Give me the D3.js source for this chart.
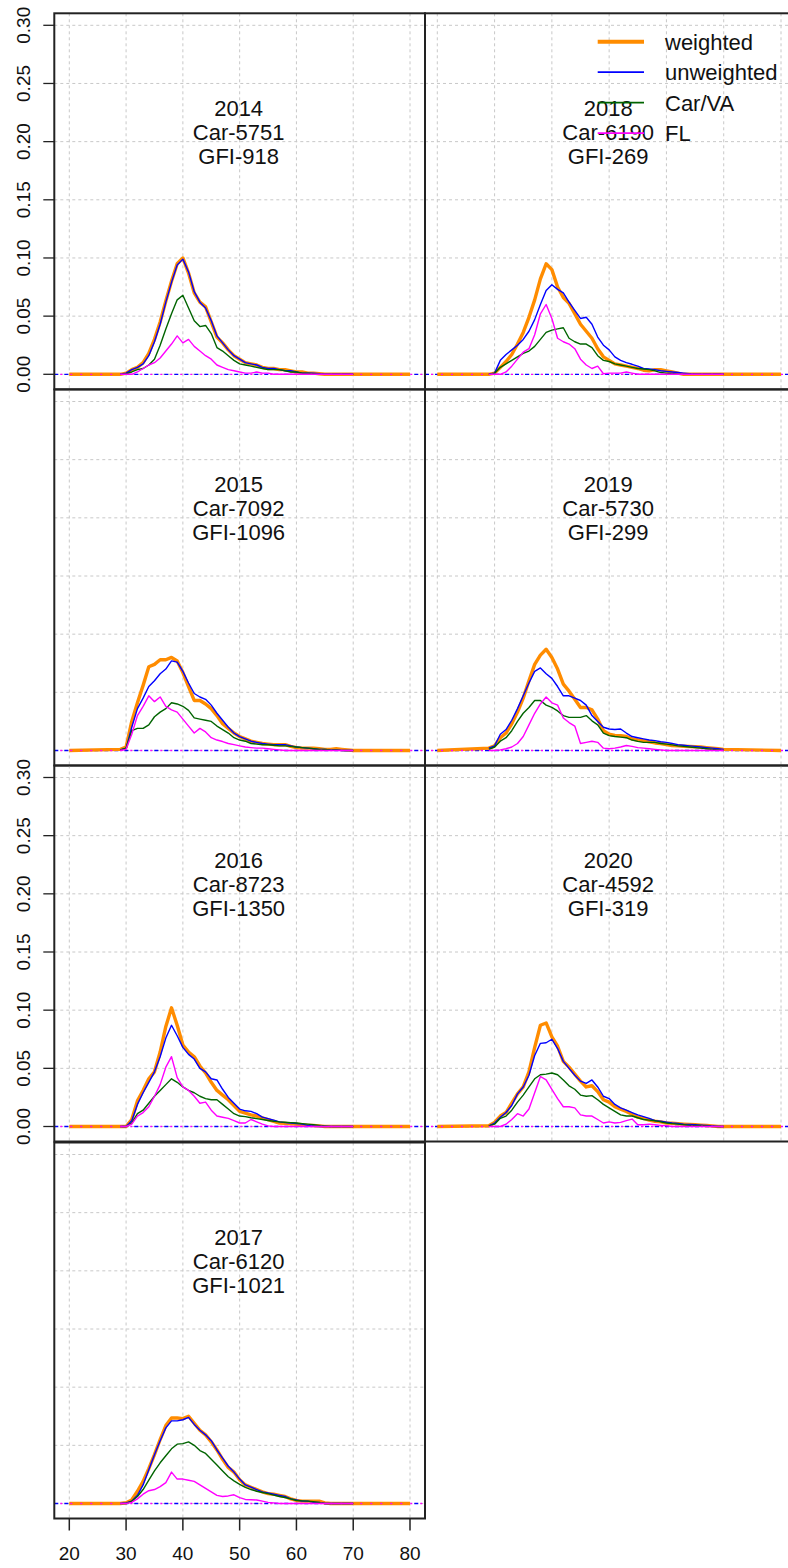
<!DOCTYPE html>
<html>
<head>
<meta charset="utf-8">
<script src="https://cdn.jsdelivr.net/npm/d3@7"></script>
<style>
  html, body { margin: 0; padding: 0; background: #fff; }
  svg { display: block; }
  text { font-family: "Liberation Sans", Arial, sans-serif; fill: #111; }
</style>
</head>
<body>
<svg id="chart" width="788" height="1568"></svg>
<script>
// ---------------- DATA ----------------
const ages = [20,
  29,30,31,32,33,34,35,36,37,38,
  39,40,41,42,43,44,45,46,47,48,
  49,50,51,52,53,54,55,56,57,58,
  59,60,61,62,63,64,65,66,67,68,
  69,70,
  80];

const years = [2014, 2015, 2016, 2017, 2018, 2019, 2020];
const carCounts = [5751, 7092, 8723, 6120, 6190, 5730, 4592];
const gfiCounts = [918, 1096, 1350, 1021, 269, 299, 319];
const seriesNames = ["weighted", "unweighted", "Car/VA", "FL"];
const xTicks = [20, 30, 40, 50, 60, 70, 80];
const yTicks = [0, 0.05, 0.10, 0.15, 0.20, 0.25, 0.30];
const yTickLabels = ["0.00", "0.05", "0.10", "0.15", "0.20", "0.25", "0.30"];

// 2014
const weighted2014 = [0,
  0,0.001,0.004,0.006,0.010,0.018,0.030,0.045,0.063,0.080,
  0.095,0.100,0.087,0.070,0.062,0.058,0.045,0.032,0.027,0.021,
  0.016,0.013,0.010,0.009,0.008,0.006,0.005,0.005,0.004,0.004,
  0.003,0.002,0.002,0.001,0.001,0.0005,0,0,0,0,
  0,0,
  0];
const unweighted2014 = [null,
  0,0.001,0.004,0.006,0.009,0.016,0.028,0.043,0.062,0.079,
  0.094,0.099,0.088,0.071,0.062,0.057,0.046,0.033,0.027,0.021,
  0.016,0.013,0.010,0.009,0.008,0.006,0.005,0.005,0.004,0.003,
  0.003,0.002,0.001,0.001,0.001,0.0005,0,0,0,0,
  0,0,
  null];
const carva2014 = [null,
  0,0.0005,0.002,0.004,0.005,0.008,0.013,0.025,0.039,0.052,
  0.064,0.068,0.057,0.046,0.041,0.042,0.035,0.023,0.020,0.016,
  0.012,0.009,0.008,0.007,0.006,0.005,0.004,0.004,0.004,0.003,
  0.002,0.002,0.001,0.001,0.0005,0,0,0,0,0,
  0,0,
  null];
const fl2014 = [null,
  0,0,0,0.002,0.005,0.008,0.010,0.014,0.020,0.026,
  0.033,0.027,0.030,0.024,0.020,0.016,0.013,0.008,0.006,0.004,
  0.003,0.002,0.001,0.001,0.002,0.001,0.001,0,0,0,
  0,0,0,0,0,0,0,0,0,0,
  0,0,
  null];

// 2015
const weighted2015 = [0,
  0.001,0.003,0.025,0.041,0.056,0.072,0.074,0.078,0.078,0.080,
  0.077,0.067,0.055,0.043,0.043,0.040,0.036,0.030,0.023,0.019,
  0.015,0.012,0.010,0.008,0.007,0.006,0.0055,0.005,0.005,0.005,
  0.0035,0.0025,0.002,0.002,0.002,0.0015,0.001,0.001,0.0015,0.001,
  0.0005,0,
  0];
const unweighted2015 = [null,
  0.0005,0.002,0.020,0.036,0.045,0.055,0.060,0.066,0.070,0.077,
  0.076,0.068,0.058,0.049,0.046,0.044,0.039,0.032,0.026,0.020,
  0.015,0.012,0.010,0.008,0.007,0.006,0.0055,0.005,0.005,0.005,
  0.004,0.003,0.0025,0.002,0.0015,0.001,0.001,0.0005,0.0005,0,
  0,0,
  null];
const carva2015 = [null,
  0.0005,0.002,0.017,0.019,0.019,0.022,0.029,0.033,0.036,0.041,
  0.040,0.038,0.0345,0.028,0.027,0.026,0.025,0.021,0.018,0.015,
  0.011,0.009,0.008,0.006,0.0055,0.005,0.005,0.0045,0.004,0.004,
  0.0035,0.003,0.0025,0.002,0.0015,0.001,0.001,0.0005,0.0005,0,
  0,0,
  null];
const fl2015 = [null,
  0,0.001,0.014,0.030,0.038,0.047,0.042,0.046,0.038,0.035,
  0.033,0.027,0.021,0.015,0.019,0.016,0.011,0.009,0.0077,0.006,
  0.005,0.004,0.003,0.0025,0.002,0.002,0.0015,0.001,0.0005,0,
  0,0,0,0,0,0,0,0,0,0,
  0,0,
  null];

// 2016
const weighted2016 = [0,
  0,0,0.006,0.022,0.031,0.041,0.047,0.064,0.086,0.102,
  0.087,0.070,0.064,0.060,0.052,0.046,0.038,0.031,0.027,0.023,
  0.018,0.013,0.0115,0.010,0.009,0.0075,0.006,0.0045,0.003,0.0027,
  0.0023,0.002,0.0015,0.001,0.0008,0.0005,0,0,0,0,
  0,0,
  0];
const unweighted2016 = [null,
  0,0,0.005,0.019,0.029,0.038,0.047,0.060,0.076,0.087,
  0.078,0.068,0.062,0.058,0.050,0.047,0.041,0.040,0.032,0.025,
  0.020,0.015,0.0135,0.013,0.011,0.008,0.0068,0.0055,0.004,0.0033,
  0.003,0.0026,0.002,0.001,0.0005,0,0,0,0,0,
  0,0,
  null];
const carva2016 = [null,
  0,0,0.003,0.011,0.014,0.020,0.026,0.031,0.036,0.041,
  0.038,0.034,0.031,0.029,0.026,0.024,0.023,0.023,0.019,0.015,
  0.011,0.009,0.0085,0.0075,0.0068,0.006,0.0052,0.0045,0.004,0.0037,
  0.0033,0.003,0.0025,0.002,0.0015,0.001,0.0005,0,0,0,
  0,0,
  null];
const fl2016 = [null,
  0,0,0.002,0.009,0.012,0.017,0.026,0.036,0.051,0.060,
  0.042,0.034,0.031,0.026,0.020,0.021,0.014,0.009,0.008,0.007,
  0.005,0.003,0.003,0.006,0.004,0.002,0.0005,0,0,0,
  0,0,0,0,0,0,0,0,0,0,
  0,0,
  null];

// 2017
const weighted2017 = [0,
  0,0.0006,0.003,0.0105,0.019,0.030,0.042,0.055,0.067,0.0735,
  0.0735,0.073,0.075,0.069,0.063,0.059,0.053,0.046,0.038,0.031,
  0.027,0.0205,0.016,0.014,0.012,0.010,0.0085,0.008,0.007,0.006,
  0.004,0.0026,0.002,0.002,0.002,0.002,0.0005,0,0,0,
  0,0,
  0];
const unweighted2017 = [null,
  0,0.0005,0.002,0.007,0.016,0.029,0.042,0.054,0.065,0.071,
  0.071,0.072,0.074,0.068,0.063,0.059,0.054,0.046,0.039,0.032,
  0.027,0.021,0.016,0.014,0.012,0.010,0.009,0.008,0.007,0.006,
  0.004,0.003,0.002,0.002,0.001,0.001,0,0,0,0,
  0,0,
  null];
const carva2017 = [null,
  0,0,0.002,0.006,0.012,0.020,0.028,0.035,0.041,0.047,
  0.051,0.0515,0.053,0.050,0.0455,0.043,0.038,0.033,0.028,0.023,
  0.0195,0.0165,0.0138,0.012,0.0105,0.0095,0.0085,0.0072,0.006,0.0052,
  0.004,0.0026,0.0023,0.002,0.0015,0.001,0,0,0,0,
  0,0,
  null];
const fl2017 = [null,
  0,0,0.001,0.004,0.008,0.011,0.012,0.0145,0.018,0.027,
  0.021,0.021,0.020,0.019,0.016,0.013,0.010,0.007,0.006,0.0065,
  0.0075,0.005,0.0035,0.0032,0.003,0.002,0.001,0.0005,0,0,
  0,0,0,0,0,0,0,0,0,0,
  0,0,
  null];

// 2018
const weighted2018 = [0,
  0,0.001,0.006,0.011,0.017,0.026,0.036,0.049,0.064,0.082,
  0.095,0.090,0.075,0.066,0.061,0.052,0.043,0.037,0.031,0.022,
  0.015,0.012,0.009,0.008,0.007,0.006,0.005,0.0035,0.003,0.004,
  0.004,0.003,0.002,0.001,0,0,0,0,0,0,
  0,0,
  0];
const unweighted2018 = [null,
  0,0.001,0.012,0.017,0.021,0.025,0.030,0.037,0.047,0.060,
  0.072,0.077,0.073,0.070,0.062,0.055,0.048,0.049,0.043,0.032,
  0.025,0.021,0.015,0.012,0.010,0.0086,0.007,0.005,0.0045,0.004,
  0.003,0.0025,0.002,0.0015,0.001,0.0005,0,0,0,0,
  0,0,
  null];
const carva2018 = [null,
  0,0.001,0.006,0.009,0.012,0.015,0.018,0.020,0.024,0.030,
  0.036,0.038,0.039,0.040,0.031,0.028,0.026,0.026,0.023,0.016,
  0.012,0.011,0.009,0.008,0.007,0.006,0.005,0.0045,0.004,0.003,
  0.0015,0.001,0.0005,0,0,0,0,0,0,0,
  0,0,
  null];
const fl2018 = [null,
  0,0,0,0.002,0.007,0.013,0.019,0.022,0.034,0.052,
  0.060,0.048,0.031,0.028,0.026,0.022,0.013,0.008,0.005,0.007,
  0.0005,0.001,0.001,0.001,0.002,0.001,0,0,0,0,
  0,0,0,0,0,0,0,0,0,0,
  0,0,
  null];

// 2019
const weighted2019 = [0,
  0.002,0.004,0.011,0.015,0.023,0.033,0.045,0.060,0.074,0.082,
  0.087,0.080,0.070,0.057,0.051,0.044,0.037,0.037,0.035,0.027,
  0.017,0.014,0.013,0.0128,0.012,0.010,0.009,0.0085,0.0075,0.0065,
  0.006,0.005,0.0043,0.004,0.0037,0.0035,0.0032,0.003,0.0025,0.002,
  0.0015,0.001,
  0];
const unweighted2019 = [null,
  0.002,0.004,0.014,0.018,0.026,0.036,0.047,0.058,0.068,0.071,
  0.066,0.062,0.055,0.047,0.047,0.045,0.043,0.039,0.030,0.025,
  0.020,0.0185,0.018,0.0185,0.015,0.012,0.011,0.010,0.009,0.0085,
  0.0075,0.007,0.006,0.005,0.0045,0.004,0.0035,0.003,0.0025,0.002,
  0.0015,0.001,
  null];
const carva2019 = [null,
  0.001,0.003,0.008,0.011,0.017,0.025,0.032,0.037,0.043,0.043,
  0.039,0.037,0.034,0.030,0.0285,0.0285,0.0285,0.030,0.0255,0.022,
  0.015,0.0128,0.012,0.0115,0.011,0.009,0.0078,0.007,0.007,0.007,
  0.006,0.0055,0.0048,0.004,0.0035,0.003,0.0025,0.002,0.0015,0.001,
  0.0005,0,
  null];
const fl2019 = [null,
  0,0,0.0005,0.0015,0.003,0.006,0.012,0.022,0.032,0.040,
  0.046,0.041,0.039,0.028,0.024,0.021,0.006,0.007,0.008,0.007,
  0.002,0.0015,0.002,0.003,0.0043,0.0035,0.0025,0.002,0.0015,0.001,
  0.0005,0,0,0,0,0,0,0,0,0,
  0,0,
  null];

// 2020
const weighted2020 = [0,
  0.0006,0.0035,0.009,0.012,0.020,0.028,0.034,0.047,0.068,0.087,
  0.089,0.077,0.069,0.056,0.051,0.045,0.039,0.034,0.035,0.030,
  0.023,0.021,0.017,0.015,0.013,0.0105,0.008,0.007,0.0055,0.0045,
  0.004,0.003,0.0028,0.0024,0.002,0.0017,0.0015,0.0012,0.0008,0.0005,
  0,0,
  0];
const unweighted2020 = [null,
  0.0005,0.003,0.008,0.012,0.018,0.028,0.034,0.044,0.061,0.0715,
  0.072,0.075,0.067,0.056,0.050,0.044,0.039,0.037,0.040,0.034,
  0.026,0.024,0.019,0.016,0.014,0.012,0.010,0.0085,0.007,0.005,
  0.0045,0.0037,0.003,0.0026,0.002,0.0018,0.0015,0.0012,0.0008,0.0005,
  0,0,
  null];
const carva2020 = [null,
  0.0005,0.002,0.007,0.009,0.014,0.021,0.027,0.034,0.041,0.0445,
  0.045,0.046,0.0445,0.040,0.035,0.032,0.027,0.026,0.0265,0.023,
  0.019,0.016,0.013,0.010,0.009,0.009,0.0075,0.006,0.0055,0.005,
  0.004,0.003,0.0025,0.002,0.0015,0.001,0.001,0.001,0.0005,0,
  0,0,
  null];
const fl2020 = [null,
  0,0,0,0.002,0.006,0.011,0.009,0.015,0.029,0.043,
  0.040,0.032,0.024,0.017,0.017,0.016,0.010,0.009,0.009,0.006,
  0.003,0.004,0.003,0.0035,0.005,0.0064,0.0015,0.0015,0.002,0.0015,
  0.001,0.0006,0,0,0,0,0,0,0,0,
  0,0,
  null];

const panelSeries = {
  2014: [weighted2014, unweighted2014, carva2014, fl2014],
  2015: [weighted2015, unweighted2015, carva2015, fl2015],
  2016: [weighted2016, unweighted2016, carva2016, fl2016],
  2017: [weighted2017, unweighted2017, carva2017, fl2017],
  2018: [weighted2018, unweighted2018, carva2018, fl2018],
  2019: [weighted2019, unweighted2019, carva2019, fl2019],
  2020: [weighted2020, unweighted2020, carva2020, fl2020]
};

// ---------------- LAYOUT / STYLE ----------------
const colors = ["#FF8C00", "#0000FF", "#006400", "#FF00FF"];
const widths = [3.4, 1.4, 1.4, 1.4];
const colX = [54.3, 425];
const rowY = [13.3, 389.5, 765.5, 1142.5];
const panelW = 370.7, panelH = 376;
const xRanges = [[15, 355.7], [12.3, 356]];
const panelPos = { // [col,row]
  2014: [0,0], 2015: [0,1], 2016: [0,2], 2017: [0,3],
  2018: [1,0], 2019: [1,1], 2020: [1,2]
};

const svg = d3.select("#chart");
svg.append("rect").attr("width", 788).attr("height", 1568).attr("fill", "#fff");

const y = d3.scaleLinear().domain([0, 0.3]).range([361, 12]);

years.forEach((yr, i) => {
  const [c, r] = panelPos[yr];
  const x = d3.scaleLinear().domain([20, 80]).range(xRanges[c]);
  const g = svg.append("g").attr("transform", `translate(${colX[c]},${rowY[r]})`);

  // grid
  g.selectAll(".gx").data(xTicks).join("line")
    .attr("x1", d => x(d)).attr("x2", d => x(d))
    .attr("y1", 0).attr("y2", panelH)
    .attr("stroke", "#c8c8c8").attr("stroke-width", 1).attr("stroke-dasharray", "3,3");
  g.selectAll(".gy").data(yTicks).join("line")
    .attr("x1", 0).attr("x2", panelW)
    .attr("y1", d => y(d)).attr("y2", d => y(d))
    .attr("stroke", "#c8c8c8").attr("stroke-width", 1).attr("stroke-dasharray", "3,3");

  // blue dotted zero line
  g.append("line").attr("x1", 0).attr("x2", panelW)
    .attr("y1", y(0)).attr("y2", y(0))
    .attr("stroke", "#0000FF").attr("stroke-width", 1.3).attr("stroke-dasharray", "4,6");

  // series
  const line = d3.line()
    .defined(d => d[1] != null)
    .x(d => x(d[0])).y(d => y(d[1]));
  panelSeries[yr].forEach((vals, k) => {
    g.append("path")
      .datum(ages.map((a, j) => [a, vals[j]]))
      .attr("d", line)
      .attr("fill", "none")
      .attr("stroke", colors[k])
      .attr("stroke-width", widths[k])
      .attr("stroke-linejoin", "round");
  });

  // magenta dotted zero line
  g.append("line").attr("x1", 0).attr("x2", panelW)
    .attr("y1", y(0)).attr("y2", y(0))
    .attr("stroke", "#FF00FF").attr("stroke-width", 1.3)
    .attr("stroke-dasharray", "2,8").attr("stroke-dashoffset", -6);

  // panel text
  const lines = [String(yr), "Car-" + carCounts[i], "GFI-" + gfiCounts[i]];
  g.selectAll(".ptxt").data(lines).join("text")
    .attr("x", x(50) - 1)
    .attr("y", (d, k) => 102.5 + k * 24)
    .attr("text-anchor", "middle")
    .attr("font-size", 22)
    .text(d => d);

  // box
  g.append("rect").attr("x", 0).attr("y", 0).attr("width", panelW).attr("height", panelH)
    .attr("fill", "none").attr("stroke", "#222").attr("stroke-width", 2);

  // y axis for rows 0 and 2 in left column
  if (c === 0 && (r === 0 || r === 2)) {
    g.selectAll(".yt").data(yTicks).join("line")
      .attr("x1", -11).attr("x2", 0)
      .attr("y1", d => y(d)).attr("y2", d => y(d))
      .attr("stroke", "#222").attr("stroke-width", 1.3);
    g.selectAll(".yl").data(yTicks).join("text")
      .attr("transform", d => `translate(-24.8,${y(d)}) rotate(-90)`)
      .attr("text-anchor", "middle")
      .attr("font-size", 19)
      .text((d, k) => yTickLabels[k]);
  }
  // x axis at the bottom panel
  if (c === 0 && r === 3) {
    g.selectAll(".xt").data(xTicks).join("line")
      .attr("x1", d => x(d)).attr("x2", d => x(d))
      .attr("y1", panelH).attr("y2", panelH + 12)
      .attr("stroke", "#222").attr("stroke-width", 1.5);
    g.selectAll(".xl").data(xTicks).join("text")
      .attr("x", d => x(d)).attr("y", panelH + 41.5)
      .attr("text-anchor", "middle")
      .attr("font-size", 19)
      .text(d => d);
  }
});

// legend (drawn on top of panel 2018)
const legend = svg.append("g");
seriesNames.forEach((name, k) => {
  const ly = 41.7 + k * 30.5;
  legend.append("line").attr("x1", 597.7).attr("x2", 644)
    .attr("y1", ly).attr("y2", ly)
    .attr("stroke", colors[k]).attr("stroke-width", widths[k] + (k === 0 ? 0.6 : 0.3));
  legend.append("text").attr("x", 665).attr("y", ly + 8)
    .attr("font-size", 22).text(name);
});
</script>
</body>
</html>
